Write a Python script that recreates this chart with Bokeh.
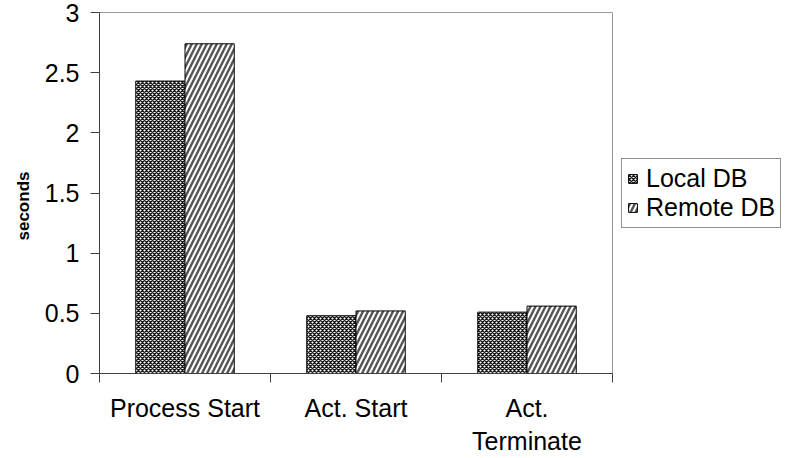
from bokeh.plotting import figure
from bokeh.models import Range1d, FixedTicker, NumeralTickFormatter, Legend, LegendItem, Title
from bokeh.embed import file_html
from bokeh.resources import INLINE

# Timing of workflow operations (seconds)
categories = ["Process Start", "Act. Start", "Act.\nTerminate"]
local_db = [2.43, 0.48, 0.51]
remote_db = [2.74, 0.52, 0.56]
y_ticks = [0, 0.5, 1, 1.5, 2, 2.5, 3]

FONT = "Liberation Sans"
BAR_W = 0.288
centers = [i + 0.5 for i in range(len(categories))]

p = figure(frame_width=513, frame_height=361, output_backend="svg", toolbar_location=None,
           x_range=Range1d(0, len(categories)), y_range=Range1d(0, 3),
           min_border_left=99, min_border_right=176, min_border_top=12,
           min_border_bottom=85)
p.background_fill_color = "white"
p.border_fill_color = "white"
p.outline_line_color = "#9a9a9a"
p.outline_line_width = 1
p.xgrid.visible = False
p.ygrid.visible = False

local_r = p.vbar(x=[c - BAR_W / 2 for c in centers], top=local_db, width=BAR_W,
                 fill_color="white", line_color="black", line_width=1,
                 hatch_pattern="diagonal_cross", hatch_scale=4, hatch_weight=1.4,
                 hatch_color="#1a1a1a")
remote_r = p.vbar(x=[c + BAR_W / 2 for c in centers], top=remote_db, width=BAR_W,
                  fill_color="white", line_color="black", line_width=1,
                  hatch_pattern="right_diagonal_line", hatch_scale=10, hatch_weight=2.4,
                  hatch_color="#555555")

# x axis: labels at category centres, ticks on category boundaries
xa = p.xaxis[0]
xa.ticker = FixedTicker(ticks=centers, minor_ticks=list(range(len(categories) + 1)))
xa.major_label_overrides = {c: lab for c, lab in zip(centers, categories)}
xa.major_tick_out = 0
xa.major_tick_in = 0
xa.minor_tick_out = 9
xa.minor_tick_in = 0
xa.minor_tick_line_color = "#404040"
xa.axis_line_color = "#404040"
xa.major_label_text_font = FONT
xa.major_label_text_font_size = "25px"
xa.major_label_text_color = "black"
xa.major_label_standoff = 11

ya = p.yaxis[0]
ya.ticker = FixedTicker(ticks=y_ticks)
ya.formatter = NumeralTickFormatter(format="0.[0]")
ya.major_tick_out = 9
ya.major_tick_in = 0
ya.minor_tick_line_color = None
ya.major_tick_line_color = "#404040"
ya.axis_line_color = "#404040"
ya.major_label_text_font = FONT
ya.major_label_text_font_size = "25px"
ya.major_label_text_color = "black"
ya.major_label_standoff = 11

# y axis caption, set a little below the middle of the frame
ylab = Title(text="seconds", align="left", offset=133, standoff=18,
             text_font=FONT, text_font_size="17px", text_font_style="bold",
             text_color="black")
p.add_layout(ylab, "left")

legend = Legend(items=[LegendItem(label="Local DB", renderers=[local_r]),
                       LegendItem(label="Remote DB", renderers=[remote_r])],
                location="center_left")
legend.label_text_font = FONT
legend.label_text_font_size = "25px"
legend.label_text_color = "black"
legend.glyph_width = 11
legend.glyph_height = 11
legend.label_standoff = 8
legend.padding = 5
legend.spacing = 0
legend.margin = 9
legend.label_height = 28
legend.border_line_color = "#222222"
legend.border_line_width = 1
legend.background_fill_color = "white"
legend.background_fill_alpha = 1
p.add_layout(legend, "right")

open("out.html", "w").write(file_html(p, INLINE))
